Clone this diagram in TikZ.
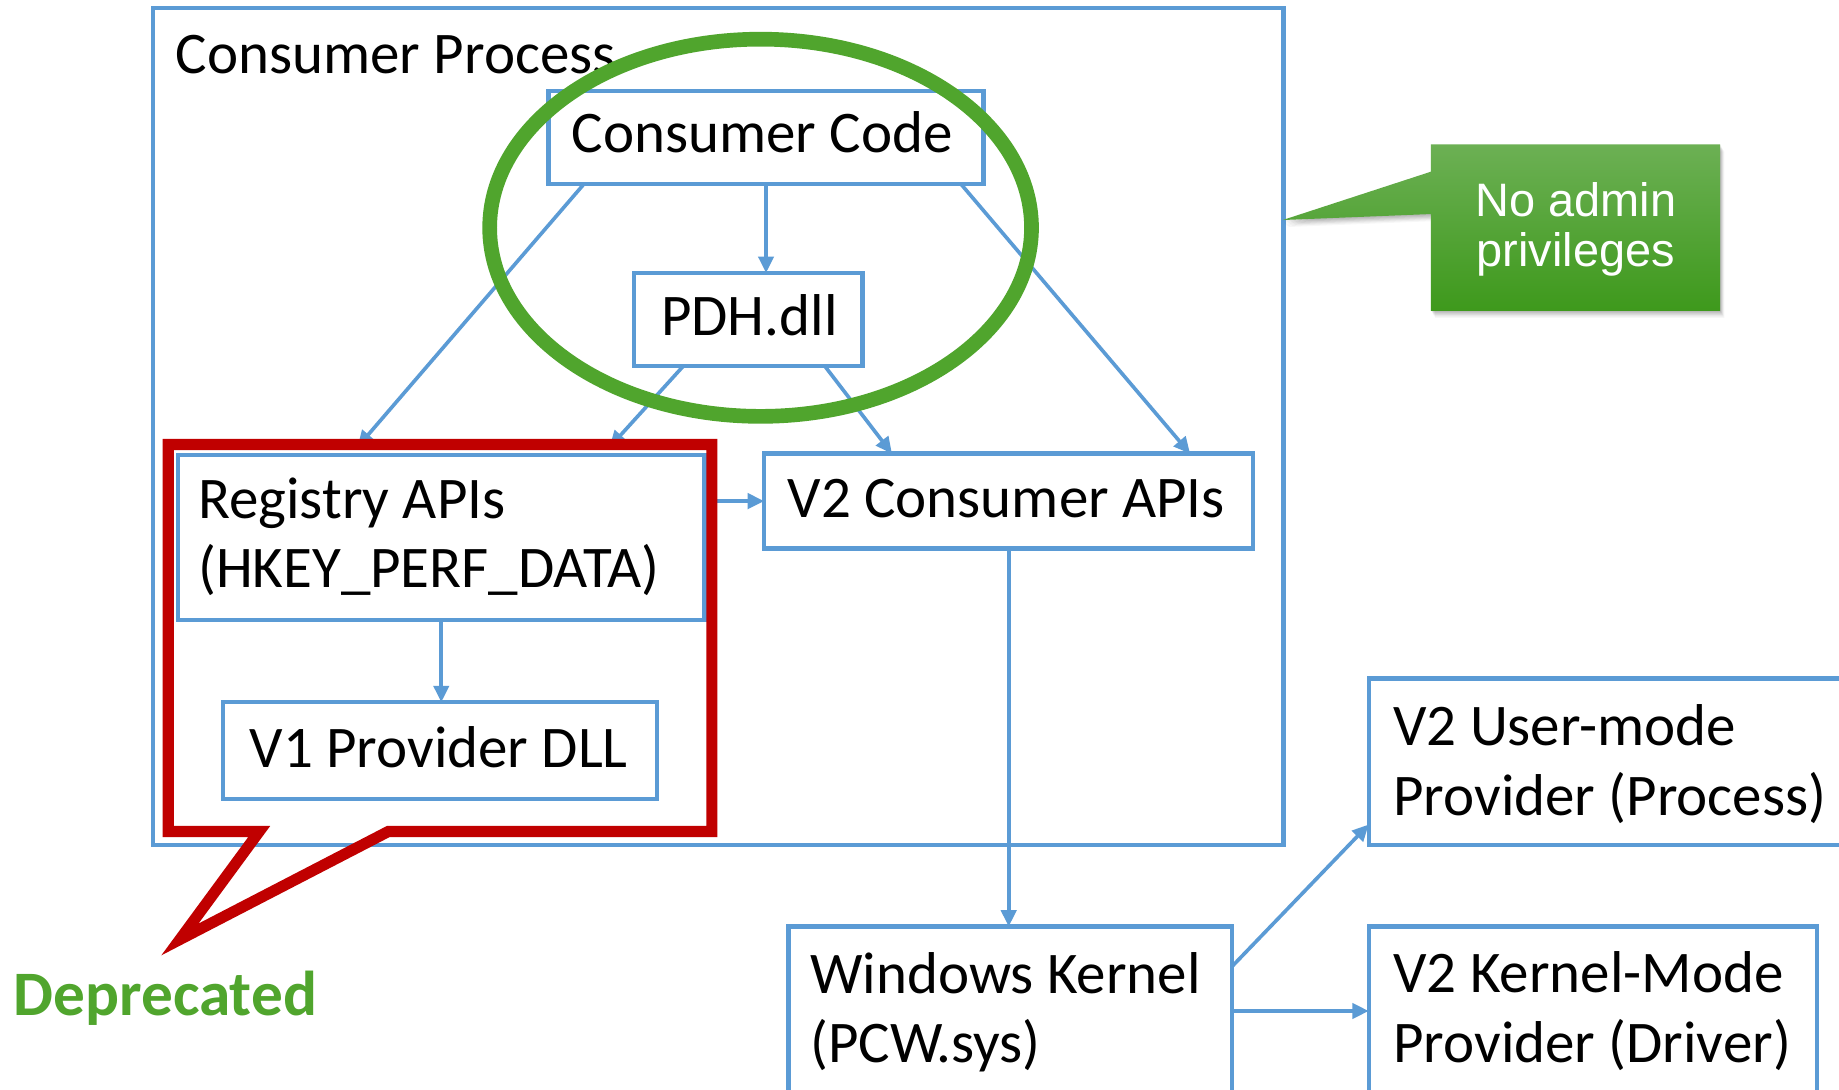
\documentclass[tikz,border=0pt]{standalone}
\usepackage{fontspec}
\setmainfont{Carlito}
\newfontfamily\helv{Liberation Sans}
\usetikzlibrary{arrows.meta,calc,shapes.geometric}
\definecolor{boxblue}{RGB}{91,155,213}
\definecolor{dred}{RGB}{192,0,0}
\definecolor{lgreen}{RGB}{80,165,45}
\definecolor{gtop}{RGB}{108,176,84}
\definecolor{gbot}{RGB}{62,153,28}
\begin{document}
\begin{tikzpicture}[x=1pt,y=-1pt,
  bx/.style={draw=boxblue, line width=3.7pt, rectangle, inner sep=0pt, outer sep=0pt},
  conn/.style={draw=boxblue, line width=3.1pt, -{Triangle[length=14pt,width=13pt]}},
  lbl/.style={font=\fontsize{50.3}{60}\selectfont, inner sep=0pt, outer sep=0pt, text=black},
  wlbl/.style={font=\helv\fontsize{40}{43}\selectfont, inner sep=0pt, outer sep=0pt, text=white, anchor=base},
]
\clip (0,0) rectangle (1568,929);
\fill[white] (0,0) rectangle (1568,929);

% boxes
\node[bx, minimum width=963.9pt, minimum height=713.6pt] (proc) at (612.25,363.8) {};
\node[bx, minimum width=370.7pt, minimum height=79.4pt] (cc) at (653.15,117.3) {};
\node[bx, minimum width=195.1pt, minimum height=79.1pt] (pdh) at (637.95,272.25) {};
\node[bx, minimum width=449.1pt, minimum height=140.7pt] (reg) at (376.25,458.35) {};
\node[bx, minimum width=417.1pt, minimum height=80.9pt] (v2c) at (860.05,427.25) {};
\node[bx, minimum width=370.3pt, minimum height=82.3pt] (v1) at (375.25,639.85) {};
\node[bx, minimum width=378.1pt, minimum height=142pt] (wk) at (861.45,861) {};
\node[bx, minimum width=413pt, minimum height=142pt] (um) at (1373.5,649.5) {};
\node[bx, minimum width=382pt, minimum height=142pt] (km) at (1358,861) {};

% texts
\node[lbl, anchor=base west] (proct) at (150,62.4) {Consumer Process};
\node[lbl, anchor=base] (cct) at (650,130.4) {Consumer Code};
\node[lbl, anchor=base] (pdht) at (639,286) {PDH.dll};
\node[lbl, anchor=base west] (regt1) at (169,442) {Registry APIs};
\node[lbl, anchor=base west] (regt2) at (169,500.5) {(HKEY\_PERF\_DATA)};
\node[lbl, anchor=base] (v2ct) at (858,441.6) {V2 Consumer APIs};
\node[lbl, anchor=base] (v1t) at (374,654.4) {V1 Provider DLL};
\node[lbl, anchor=base west] (wkt1) at (691,847) {Windows Kernel};
\node[lbl, anchor=base west] (wkt2) at (691,905.5) {(PCW.sys)};
\node[lbl, anchor=base west] (umt1) at (1188,635.5) {V2 User-mode};
\node[lbl, anchor=base west] (umt2) at (1188,695.5) {Provider (Process)};
\node[lbl, anchor=base west] (kmt1) at (1188,846) {V2 Kernel-Mode};
\node[lbl, anchor=base west] (kmt2) at (1188,906) {Provider (Driver)};

% connectors
\draw[conn] (cc.south) -- (cc.south |- pdh.north);
\draw[conn, shorten >=9pt] ($(cc.south west)+(30,0)$) -- ($(reg.north west)+(147.3,0)$);
\draw[conn, shorten >=9pt] ($(pdh.south west)+(42.5,0)$) -- ($(reg.north west)+(362,0)$);
\draw[conn] ($(pdh.south west)+(162.6,0)$) -- ($(v2c.north west)+(109,0)$);
\draw[conn] ($(cc.south west)+(351.6,0)$) -- ($(v2c.north west)+(363.2,0)$);
\draw[conn] (v2c.west -| reg.east) -- (v2c.west);
\draw[conn] (reg.south) -- (reg.south |- v1.north);
\draw[conn] (v2c.south) -- (v2c.south |- wk.north);
\draw[conn] ($(wk.north east)+(0,34)$) -- ($(um.north west)+(0,124.5)$);
\draw[conn] ($(wk.north east)+(0,72)$) -- ($(km.north west)+(0,72)$);

% green ellipse
\node[ellipse, draw=lgreen, line width=12.5pt, minimum width=462pt, minimum height=321.6pt, inner sep=0pt] (circ) at (648.5,194.2) {};

% red callout
\draw[dred, line width=9.5pt, miter limit=10]
  (143.5,379) -- (607,379) -- (607,709) -- (331,709) -- (153.4,801) -- (221,709) -- (143.5,709) -- cycle;
\node[font=\bfseries\fontsize{54}{61}\selectfont, text=lgreen, anchor=base west, inner sep=0pt] (dep) at (11.5,865.5) {Deprecated};

% green callout with soft shadow
\foreach \s/\o in {1/0.06,2/0.06,3/0.06,4/0.05,5/0.04,6/0.03}{
  \fill[black, opacity=\o, shift={(0.6*\s,\s)}]
    (1220,123) -- (1466.6,123) -- (1466.6,265) -- (1220,265) -- (1220,182.5) -- (1093.7,187.6) -- (1220,146.4) -- cycle;
}
\shade[top color=gtop, bottom color=gbot]
  (1220,123) -- (1466.6,123) -- (1466.6,265) -- (1220,265) -- (1220,182.5) -- (1093.7,187.6) -- (1220,146.4) -- cycle;
\node[wlbl] (na1) at (1343.7,184.8) {No admin};
\node[wlbl] (na2) at (1343.7,227.4) {privileges};
\end{tikzpicture}
\end{document}
